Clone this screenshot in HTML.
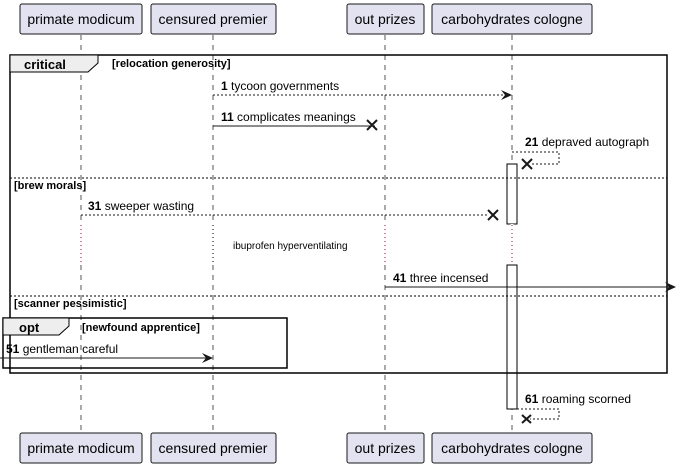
<!DOCTYPE html>
<html><head><style>body{margin:0;background:#fff}svg{display:block}text{font-family:"Liberation Sans",sans-serif}</style></head><body>
<svg width="676" height="469" viewBox="0 0 676 469" xmlns="http://www.w3.org/2000/svg">
<g stroke="#555" stroke-dasharray="5,5" stroke-width="1">
<line x1="81" y1="35" x2="81" y2="433"/><line x1="213" y1="35" x2="213" y2="433"/><line x1="385" y1="35" x2="385" y2="433"/><line x1="512" y1="35" x2="512" y2="433"/>
</g>
<g fill="#E2E2F0" stroke="#181818">
<rect x="20" y="4" width="122" height="30" rx="2"/><rect x="151" y="4" width="125" height="30" rx="2"/><rect x="347" y="4" width="77" height="30" rx="2"/><rect x="432" y="4" width="160" height="30" rx="2"/>
<rect x="20" y="433" width="122" height="30" rx="2"/><rect x="151" y="433" width="125" height="30" rx="2"/><rect x="347" y="433" width="77" height="30" rx="2"/><rect x="432" y="433" width="160" height="30" rx="2"/>
</g>
<g font-size="14" fill="#000" text-anchor="middle">
<text x="81" y="24">primate modicum</text><text x="213" y="24">censured premier</text><text x="385" y="24">out prizes</text><text x="512" y="24">carbohydrates cologne</text>
<text x="81" y="453">primate modicum</text><text x="213" y="453">censured premier</text><text x="385" y="453">out prizes</text><text x="512" y="453">carbohydrates cologne</text>
</g>
<rect x="507" y="164" width="10" height="60" fill="#fff" stroke="#000"/>
<line x1="512" y1="224" x2="512" y2="264" stroke="#fff" stroke-width="3"/>
<line x1="512" y1="225" x2="512" y2="262" stroke="#a00050" stroke-dasharray="1,3"/>
<line x1="385" y1="225" x2="385" y2="262" stroke="#fff" stroke-width="3"/>
<line x1="385" y1="225" x2="385" y2="262" stroke="#a00050" stroke-dasharray="1,3"/>
<line x1="213" y1="225" x2="213" y2="262" stroke="#fff" stroke-width="3"/>
<line x1="213" y1="225" x2="213" y2="262" stroke="#000" stroke-dasharray="1,3"/>
<line x1="81" y1="225" x2="81" y2="262" stroke="#fff" stroke-width="3"/>
<line x1="81" y1="225" x2="81" y2="262" stroke="#a00050" stroke-dasharray="1,3"/>
<rect x="507" y="265" width="10" height="144" fill="#fff" stroke="#000"/>
<rect x="10" y="55" width="657" height="318" fill="none" stroke="#000" stroke-width="1.5"/>
<path d="M10 55 H98 V63 L88 72 H10 Z" fill="#eee" stroke="#000"/>
<text x="24" y="69" font-size="13" font-weight="bold">critical</text>
<text x="112" y="67" font-size="11" font-weight="bold">[relocation generosity]</text>
<line x1="10" y1="178" x2="667" y2="178" stroke="#000" stroke-dasharray="2,2"/>
<text x="14" y="189" font-size="11" font-weight="bold">[brew morals]</text>
<line x1="10" y1="296" x2="667" y2="296" stroke="#000" stroke-dasharray="2,2"/>
<text x="14" y="307" font-size="11" font-weight="bold">[scanner pessimistic]</text>
<rect x="3" y="318" width="284" height="50" fill="none" stroke="#000" stroke-width="1.5"/>
<path d="M3 318 H69 V326 L59 335 H3 Z" fill="#eee" stroke="#000"/>
<text x="19" y="332" font-size="13" font-weight="bold">opt</text>
<text x="82" y="331" font-size="11" font-weight="bold">[newfound apprentice]</text>
<g stroke="#181818" fill="none">
<line x1="213" y1="95" x2="510" y2="95" stroke-dasharray="2,2"/>
<line x1="213" y1="126" x2="375" y2="126"/>
<path d="M512 152 H559 V164 H530" stroke-dasharray="2,2"/>
<line x1="81" y1="215" x2="487" y2="215" stroke-dasharray="2,2"/>
<line x1="385" y1="287" x2="672" y2="287"/>
<line x1="0" y1="358" x2="210" y2="358"/>
<path d="M517 409 H559 V419 H530" stroke-dasharray="2,2"/>
</g>
<g fill="#181818">
<path d="M512 95 L501 90 L505 95 L501 100 Z"/>
<path d="M676 287 L665 282 L669 287 L665 292 Z"/>
<path d="M213 358 L202 353 L206 358 L202 363 Z"/>
</g>
<g stroke="#181818" stroke-width="2">
<path d="M367 120 L377 130 M377 120 L367 130"/>
<path d="M522 159 L532 169 M532 159 L522 169"/>
<path d="M488 210 L498 220 M498 210 L488 220"/>
<path d="M522 415 L531 423 M531 415 L522 423"/>
</g>
<g font-size="12" fill="#000">
<text x="221" y="90"><tspan font-weight="bold">1</tspan> tycoon governments</text>
<text x="221" y="121"><tspan font-weight="bold">11</tspan> complicates meanings</text>
<text x="525" y="146"><tspan font-weight="bold">21</tspan> depraved autograph</text>
<text x="88" y="210"><tspan font-weight="bold">31</tspan> sweeper wasting</text>
<text x="393" y="282"><tspan font-weight="bold">41</tspan> three incensed</text>
<text x="6" y="353"><tspan font-weight="bold">51</tspan> gentleman careful</text>
<text x="525" y="403"><tspan font-weight="bold">61</tspan> roaming scorned</text>
<text x="233" y="249" font-size="10">ibuprofen hyperventilating</text>
</g>
</svg>
</body></html>
